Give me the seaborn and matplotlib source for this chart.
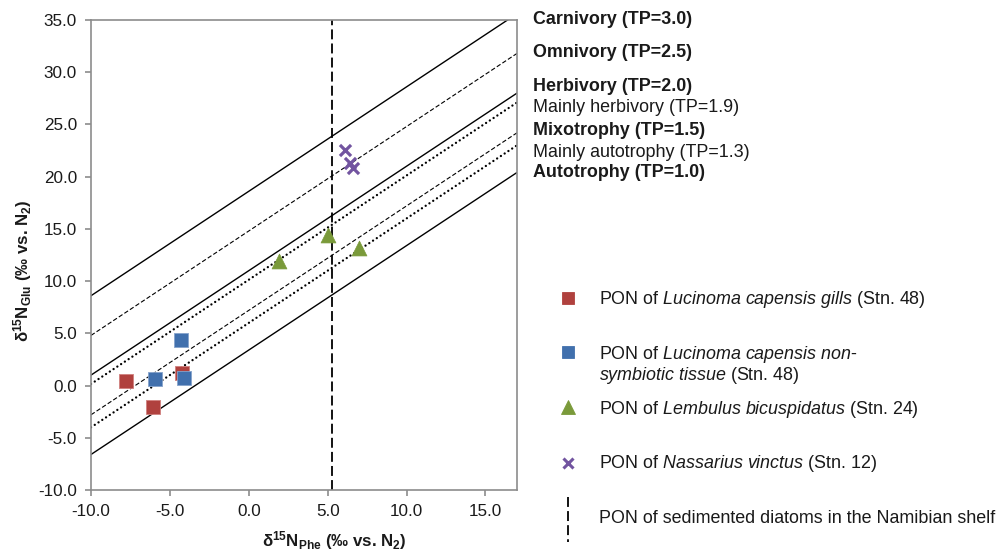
import matplotlib
matplotlib.use("Agg")
import matplotlib.pyplot as plt
from matplotlib.lines import Line2D
import numpy as np
import pandas as pd
import seaborn as sns

# ---------------- data ----------------
gills_phe = [-7.75, -6.1, -4.25]
gills_glu = [0.4, -2.1, 1.2]
nonsym_phe = [-4.3, -5.95, -4.1]
nonsym_glu = [4.4, 0.6, 0.75]
lembulus_phe = [1.9, 5.0, 7.0]
lembulus_glu = [11.9, 14.4, 13.2]
nassarius_phe = [6.1, 6.4, 6.6]
nassarius_glu = [22.6, 21.3, 20.8]
diatom_phe = 5.3

tp_labels = ["Carnivory (TP=3.0)", "Omnivory (TP=2.5)", "Herbivory (TP=2.0)",
             "Mainly herbivory (TP=1.9)", "Mixotrophy (TP=1.5)",
             "Mainly autotrophy (TP=1.3)", "Autotrophy (TP=1.0)"]
tp_bold = [True, True, True, False, True, False, True]
line_phe = [-10.0, 17.0]
line_glu_start = [8.6, 4.8, 1.0, 0.15, -2.8, -4.0, -6.6]
line_glu_end = [35.6, 31.8, 28.0, 27.1, 24.2, 23.0, 20.4]
line_kind = ["solid", "dashed", "solid", "dotted", "dashed", "dotted", "solid"]

x_ticks = [-10.0, -5.0, 0.0, 5.0, 10.0, 15.0]
y_ticks = [-10.0, -5.0, 0.0, 5.0, 10.0, 15.0, 20.0, 25.0, 30.0, 35.0]

legend_labels = [
    ["PON of $\\mathit{Lucinoma\\ capensis\\ gills}$ (Stn. 48)"],
    ["PON of $\\mathit{Lucinoma\\ capensis\\ non}$-", "$\\mathit{symbiotic\\ tissue}$ (Stn. 48)"],
    ["PON of $\\mathit{Lembulus\\ bicuspidatus}$ (Stn. 24)"],
    ["PON of $\\mathit{Nassarius\\ vinctus}$ (Stn. 12)"],
    ["PON of sedimented diatoms in the Namibian shelf"],
]

# ---------------- style ----------------
sns.set_theme(style="white")
plt.rcParams["font.family"] = ["Liberation Sans", "DejaVu Sans"]
plt.rcParams["mathtext.fontset"] = "custom"
plt.rcParams["mathtext.rm"] = "Liberation Sans"
plt.rcParams["mathtext.it"] = "Liberation Sans:italic"
plt.rcParams["mathtext.bf"] = "Liberation Sans:bold"

RED = "#B0413E"
BLUE = "#4170AD"
GREEN = "#7A9A3A"
PURPLE = "#7254A0"
FS_TICK = 12.3
FS_LAB = 12.2
FS_TXT = 12.85
TXT_COL = "#1A1A1A"
W, H = 1004, 555

fig = plt.figure(figsize=(W / 100, H / 100), dpi=100)
ax = fig.add_axes([91 / W, 1 - 490 / H, (517 - 91) / W, (490 - 20) / H])

# ---------------- trophic position lines ----------------
for y0, y1, kind in zip(line_glu_start, line_glu_end, line_kind):
    df = pd.DataFrame({"x": line_phe, "y": [y0, y1]})
    if kind == "solid":
        sns.lineplot(data=df, x="x", y="y", ax=ax, color="black", lw=1.0, zorder=2)
    elif kind == "dashed":
        sns.lineplot(data=df, x="x", y="y", ax=ax, color="black", lw=0.8,
                     linestyle=(0, (4, 2)), zorder=2)
    else:
        sns.lineplot(data=df, x="x", y="y", ax=ax, color="black", lw=1.7,
                     linestyle=(0, (0.01, 1.9)), dash_capstyle="round", zorder=2)

ax.axvline(diatom_phe, color="black", lw=1.3, linestyle=(0, (5.5, 2.3)), zorder=2)

# ---------------- data points ----------------
sns.scatterplot(x=gills_phe, y=gills_glu, ax=ax, marker="s", s=90, color=RED,
                edgecolor="#D0807E", linewidth=0.6, zorder=4)
sns.scatterplot(x=nonsym_phe, y=nonsym_glu, ax=ax, marker="s", s=90, color=BLUE,
                edgecolor="#86A3CC", linewidth=0.6, zorder=4)
sns.scatterplot(x=lembulus_phe, y=lembulus_glu, ax=ax, marker="^", s=115, color=GREEN,
                edgecolor=GREEN, linewidth=0.5, zorder=4)
sns.scatterplot(x=nassarius_phe, y=nassarius_glu, ax=ax, marker="x", s=64, color=PURPLE,
                linewidth=2.3, zorder=4)

# ---------------- axes ----------------
ax.set_xlim(-10, 17)
ax.set_ylim(-10, 35)
ax.set_xticks(x_ticks)
ax.set_yticks(y_ticks)
ax.set_xticklabels([f"{v:.1f}" for v in x_ticks])
ax.set_yticklabels([f"{v:.1f}" for v in y_ticks])
for sp in ax.spines.values():
    sp.set_color("#8C8C8C")
    sp.set_linewidth(1.2)
ax.tick_params(axis="both", which="major", direction="out", length=4, width=1.2,
               color="#8C8C8C", labelsize=FS_TICK, labelcolor=TXT_COL,
               bottom=True, left=True)
ax.tick_params(axis="x", pad=6)
ax.tick_params(axis="y", pad=6)

ax.set_xlabel("$\\mathbf{\u03b4^{15}N_{Phe}}$ (\u2030 vs. N$_\\mathbf{2}$)",
              fontsize=FS_LAB, fontweight="bold", color=TXT_COL)
ax.set_ylabel("$\\mathbf{\u03b4^{15}N_{Glu}}$ (\u2030 vs. N$_\\mathbf{2}$)",
              fontsize=FS_LAB, fontweight="bold", color=TXT_COL)
ax.xaxis.label.set_va("center")
ax.yaxis.label.set_va("center")
ax.xaxis.set_label_coords((334 - 91) / 426, -(541 - 490) / 470)
ax.yaxis.set_label_coords((23 - 91) / 426, (490 - 271) / 470)

# ---------------- right-hand TP labels ----------------
tp_baselines = [24, 57, 91, 112, 135, 157, 177]
for lab, b, yb in zip(tp_labels, tp_bold, tp_baselines):
    fig.text(533 / W, 1 - yb / H, lab, fontsize=FS_TXT,
             fontweight="bold" if b else "normal", color=TXT_COL,
             ha="left", va="baseline")

# ---------------- legend (drawn manually) ----------------
mx = 568 / W
marker_specs = [
    dict(marker="s", ms=9.0, mfc=RED, mec=RED, y=298),
    dict(marker="s", ms=9.0, mfc=BLUE, mec=BLUE, y=352),
    dict(marker="^", ms=9.5, mfc=GREEN, mec=GREEN, y=407),
    dict(marker="x", ms=7.5, mfc=PURPLE, mec=PURPLE, y=463, mew=2.2),
]
for spec in marker_specs:
    y = 1 - spec["y"] / H
    fig.add_artist(Line2D([mx], [y], transform=fig.transFigure, marker=spec["marker"],
                          markersize=spec["ms"], markerfacecolor=spec["mfc"],
                          markeredgecolor=spec["mec"], markeredgewidth=spec.get("mew", 0.6),
                          linestyle="none"))
fig.add_artist(Line2D([mx, mx], [1 - 497 / H, 1 - 542 / H], transform=fig.transFigure,
                      color="black", lw=1.3, linestyle=(0, (5.5, 2.3))))

legend_baselines = [[304], [359, 380], [414], [468], [523]]
for lines, bases in zip(legend_labels, legend_baselines):
    for txt, yb in zip(lines, bases):
        fig.text(599 / W, 1 - yb / H, txt, fontsize=FS_TXT, color=TXT_COL,
                 ha="left", va="baseline")

fig.savefig("out.png", dpi=100)
